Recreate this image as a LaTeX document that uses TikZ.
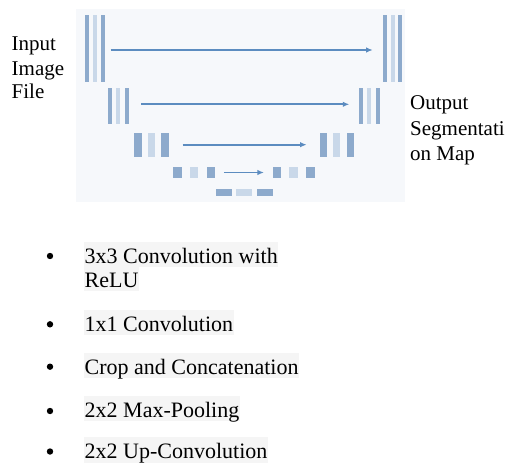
\documentclass[tikz,border=0pt]{standalone}
\usepackage{fontspec}
\setmainfont{Liberation Serif}
\usetikzlibrary{arrows.meta}
\definecolor{panelbg}{RGB}{246,248,251}
\definecolor{bardark}{RGB}{141,170,204}
\definecolor{barlight}{RGB}{201,216,233}
\definecolor{arrowblue}{RGB}{92,140,192}
\definecolor{hlgray}{RGB}{245,245,245}
\tikzset{
  bar/.style={draw=none, inner sep=0pt, outer sep=0pt},
  dk/.style={bar, fill=bardark},
  lt/.style={bar, fill=barlight},
  skip/.style={draw=arrowblue, line width=1.7pt, -{Latex[length=6.5pt,width=5.5pt]}},
  lbl/.style={anchor=base west, inner sep=0pt, font=\fontsize{21}{24.5}\selectfont},
  item/.style={anchor=base west, inner xsep=0.5pt, inner ysep=0pt, fill=hlgray,
    text height=21.5pt, text depth=3.7pt, font=\fontsize{22}{24.5}\selectfont},
  dot/.style={circle, fill=black, inner sep=0pt, minimum size=6.4pt}
}
\begin{document}
\begin{tikzpicture}[x=1pt, y=-1pt]
\useasboundingbox (0,0) rectangle (508,463);
% backdrop of the network sketch
\fill[panelbg] (76,9) rectangle (405,202);

% level 1
\node[dk, minimum width=4pt, minimum height=66.7pt] (l1a) at (86.7,48.3) {};
\node[lt, minimum width=4pt, minimum height=66.7pt] (l1b) at (94.7,48.3) {};
\node[dk, minimum width=4pt, minimum height=66.7pt] (l1c) at (102.7,48.3) {};
\node[dk, minimum width=4pt, minimum height=66.7pt] (r1a) at (384.7,48.3) {};
\node[lt, minimum width=4pt, minimum height=66.7pt] (r1b) at (392.7,48.3) {};
\node[dk, minimum width=4pt, minimum height=66.7pt] (r1c) at (400.2,48.3) {};
% level 2
\node[dk, minimum width=4pt, minimum height=35.7pt] (l2a) at (110.3,106.2) {};
\node[lt, minimum width=4pt, minimum height=35.7pt] (l2b) at (118.3,106.2) {};
\node[dk, minimum width=4pt, minimum height=35.7pt] (l2c) at (126.7,106.2) {};
\node[dk, minimum width=4pt, minimum height=35.7pt] (r2a) at (361.3,106.2) {};
\node[lt, minimum width=4pt, minimum height=35.7pt] (r2b) at (369.3,106.2) {};
\node[dk, minimum width=4pt, minimum height=35.7pt] (r2c) at (378,106.2) {};
% level 3
\node[dk, minimum width=7.4pt, minimum height=24pt] (l3a) at (138,144.7) {};
\node[lt, minimum width=7.4pt, minimum height=24pt] (l3b) at (151.7,144.7) {};
\node[dk, minimum width=7.4pt, minimum height=24pt] (l3c) at (165,144.7) {};
\node[dk, minimum width=7.4pt, minimum height=24pt] (r3a) at (323.3,144.7) {};
\node[lt, minimum width=7.4pt, minimum height=24pt] (r3b) at (336.7,144.7) {};
\node[dk, minimum width=7.4pt, minimum height=24pt] (r3c) at (350.3,144.7) {};
% level 4
\node[dk, minimum width=8.7pt, minimum height=11.7pt] (l4a) at (177.3,172.5) {};
\node[lt, minimum width=8.7pt, minimum height=11.7pt] (l4b) at (194,172.5) {};
\node[dk, minimum width=8.7pt, minimum height=11.7pt] (l4c) at (211,172.5) {};
\node[dk, minimum width=8.7pt, minimum height=11.7pt] (r4a) at (277,172.5) {};
\node[lt, minimum width=8.7pt, minimum height=11.7pt] (r4b) at (293.7,172.5) {};
\node[dk, minimum width=8.7pt, minimum height=11.7pt] (r4c) at (310.7,172.5) {};
% bottleneck
\node[dk, minimum width=16pt, minimum height=6.7pt] (b1) at (223.7,192.3) {};
\node[lt, minimum width=16pt, minimum height=6.7pt] (b2) at (244.3,192.3) {};
\node[dk, minimum width=16pt, minimum height=6.7pt] (b3) at (264.5,192.3) {};

% skip connections
\draw[skip, shorten <=6pt, shorten >=10pt] ([yshift=-1.7pt]l1c.east) -- ([yshift=-1.7pt]r1a.west);
\draw[skip, shorten <=12.6pt, shorten >=10pt] ([yshift=1.9pt]l2c.east) -- ([yshift=1.9pt]r2a.west);
\draw[skip, shorten <=14pt, shorten >=13pt] (l3c.east) -- (r3a.west);
\draw[skip, shorten <=8.4pt, shorten >=8.7pt] (l4c.east) -- (r4a.west);

% side labels
\node[lbl] (in1) at (11.5,50) {Input};
\node[lbl] (in2) at (11.5,75) {Image};
\node[lbl] (in3) at (11.5,98.5) {File};
\node[lbl] (out1) at (410,109) {Output};
\node[lbl] (out2) at (410,135) {Segmentati};
\node[lbl] (out3) at (410,160) {on Map};

% legend
\node[dot] (d1) at (50,256) {};
\node[item] (t1a) at (84,263.3) {3x3 Convolution with};
\node[item] (t1b) at (84,287.3) {ReLU};
\node[dot] (d2) at (50,324.3) {};
\node[item] (t2) at (84,331) {1x1 Convolution};
\node[dot] (d3) at (50,366.7) {};
\node[item] (t3) at (84,374) {Crop and Concatenation};
\node[dot] (d4) at (50,411) {};
\node[item] (t4) at (84,417.7) {2x2 Max-Pooling};
\node[dot] (d5) at (50,451.5) {};
\node[item, text depth=4.5pt] (t5) at (84,458) {2x2 Up-Convolution};
\end{tikzpicture}
\end{document}
